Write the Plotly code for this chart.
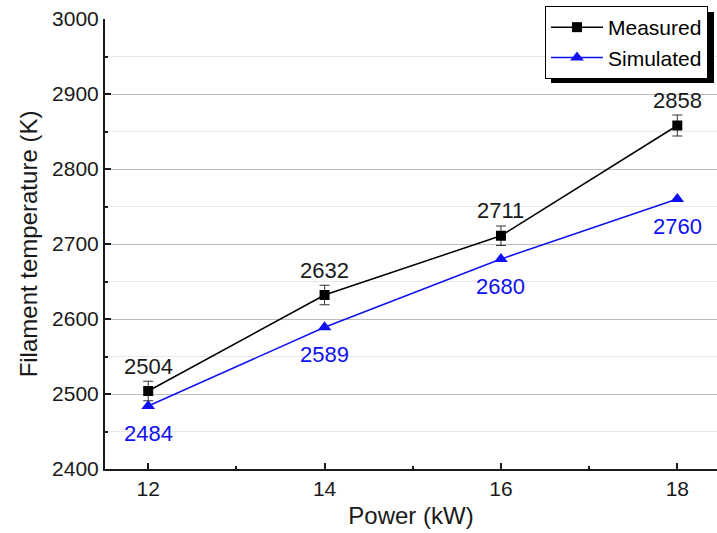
import plotly.graph_objects as go

power = [12, 14, 16, 18]
measured = [2504, 2632, 2711, 2858]
measured_err = [13, 13, 13, 14]
simulated = [2484, 2589, 2680, 2760]

FONT = "Liberation Sans, Arial, sans-serif"
BLUE = "#1010f0"
DARK = "#1a1a1a"

fig = go.Figure()
fig.add_trace(go.Scatter(
    x=power, y=measured, name="Measured", mode="lines+markers",
    line=dict(color="black", width=1.5),
    marker=dict(symbol="square", size=10, color="black"),
    error_y=dict(type="data", array=measured_err, color="#333333", thickness=1, width=5),
))
fig.add_trace(go.Scatter(
    x=power, y=simulated, name="Simulated", mode="lines+markers",
    line=dict(color=BLUE, width=1.5),
    marker=dict(symbol="triangle-up", size=12, color=BLUE),
))

for x, y in zip(power, measured):
    fig.add_annotation(x=x, y=y, text=str(y), showarrow=False, yshift=25,
                       font=dict(size=22, color=DARK, family=FONT))
for x, y in zip(power, simulated):
    fig.add_annotation(x=x, y=y, text=str(y), showarrow=False, yshift=-27,
                       font=dict(size=22, color=BLUE, family=FONT))

# legend shadow
fig.add_shape(type="rect", xref="paper", yref="paper",
              x0=(551 - 105) / 612, x1=(714 - 105) / 612,
              y0=(469 - 83) / 450, y1=(469 - 12) / 450,
              fillcolor="black", line=dict(width=0), layer="above")

fig.update_layout(
    width=717, height=533,
    margin=dict(l=105, r=0, t=19, b=64),
    paper_bgcolor="white", plot_bgcolor="white",
    font=dict(family=FONT, size=21, color=DARK),
    showlegend=True,
    legend=dict(x=(545 - 105) / 612, y=(469 - 6) / 450, xanchor="left", yanchor="top",
                bgcolor="white", bordercolor="black", borderwidth=1,
                font=dict(size=21, color="black", family=FONT),
                tracegroupgap=0, itemwidth=52),
    xaxis=dict(range=[11.51, 18.45], tickvals=[12, 14, 16, 18], ticks="inside",
               ticklen=6, tickwidth=1.5, tickcolor=DARK, showline=True, linecolor=DARK,
               linewidth=2, showgrid=False, zeroline=False,
               minor=dict(tickvals=[13, 15, 17], ticks="inside", ticklen=3, tickwidth=1.5, tickcolor=DARK, showgrid=False),
               title=dict(text="Power (kW)", font=dict(size=24, family=FONT, color=DARK), standoff=8),
               tickfont=dict(size=21, family=FONT, color=DARK)),
    yaxis=dict(range=[2400, 3000], dtick=100, ticks="inside", ticklen=6, tickwidth=1.5,
               tickcolor=DARK, showline=True, linecolor=DARK, linewidth=2,
               showgrid=True, gridcolor="#bdbdbd", gridwidth=1, zeroline=False,
               minor=dict(dtick=50, ticks="inside", ticklen=3, tickwidth=1.5, tickcolor=DARK,
                          showgrid=True, gridcolor="#e8e8e8", gridwidth=1),
               title=dict(text="Filament temperature (K)", font=dict(size=24, family=FONT, color=DARK), standoff=8),
               tickfont=dict(size=21, family=FONT, color=DARK)),
)

fig.write_html("out.html")
